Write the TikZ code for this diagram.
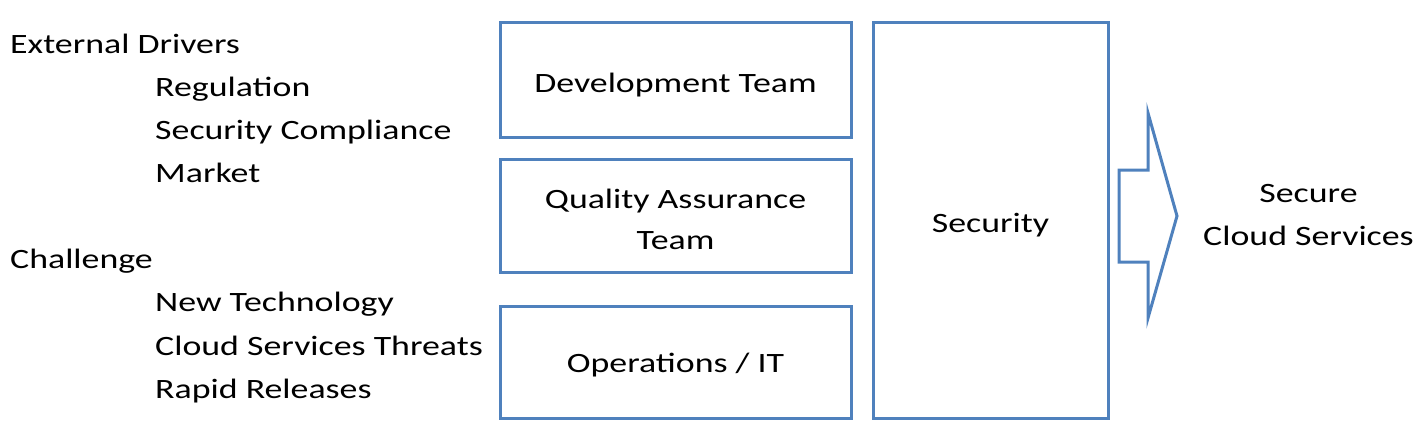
\documentclass[tikz,border=0pt]{standalone}
\usepackage{fontspec}
\setmainfont{Carlito}[FakeStretch=1.28]
\begin{document}
\begin{tikzpicture}[x=1pt,y=-1pt,
  lbl/.style={inner sep=0pt,anchor=base west,font=\fontsize{28}{34}\selectfont},
  ctr/.style={inner sep=0pt,anchor=base,font=\fontsize{28}{34}\selectfont},
  teambox/.style={draw=boxblue,line width=3pt,inner sep=0pt},
  boxtext/.style={inner sep=0pt,align=center,font=\fontsize{28}{41}\selectfont}]
\definecolor{boxblue}{HTML}{4F81BD}
\useasboundingbox (0,0) rectangle (1424,428);
% left texts
\node[lbl] (ext) at (10,53) {External Drivers};
\node[lbl] (reg) at (155,96.5) {Regulation};
\node[lbl] (comp) at (155,139) {Security Compliance};
\node[lbl] (mkt) at (155,182) {Market};
\node[lbl] (chal) at (10,268) {Challenge};
\node[lbl] (newt) at (155,311.5) {New Technology};
\node[lbl] (thr) at (155,355) {Cloud Services Threats};
\node[lbl] (rap) at (155,398) {Rapid Releases};
% team boxes
\node[teambox,minimum width=351pt,minimum height=114pt] (dev) at (675.5,80) {};
\node[teambox,minimum width=351pt,minimum height=113pt] (qa) at (675.5,215.5) {};
\node[teambox,minimum width=351pt,minimum height=112pt] (ops) at (675.5,362) {};
\node[teambox,minimum width=235pt,minimum height=395pt] (sec) at (990.5,220.5) {};
\node[boxtext] (devt) at ([yshift=-5pt]dev.center) {Development Team};
\node[boxtext] (qat) at ([yshift=-4pt]qa.center) {Quality Assurance\\Team};
\node[boxtext] (opst) at ([yshift=-3pt]ops.center) {Operations / IT};
\node[boxtext] (sect) at ([yshift=-5pt]sec.center) {Security};
% block arrow
\draw[boxblue,line width=3pt,line join=miter]
  (1119,170) -- (1148,170) -- (1148,113) -- (1177,216) -- (1148,318) -- (1148,262) -- (1119,262) -- cycle;
% output
\node[ctr] (sc1) at (1308.5,202) {Secure};
\node[ctr] (sc2) at (1308.5,245) {Cloud Services};
\end{tikzpicture}
\end{document}
